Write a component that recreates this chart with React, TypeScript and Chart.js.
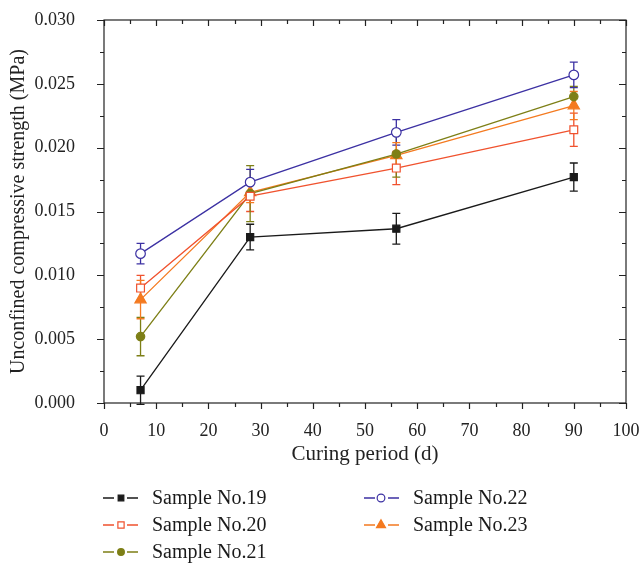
import React, { useEffect, useRef } from "react";
import { Chart, registerables } from "chart.js";

Chart.register(...registerables);

const days = [7, 28, 56, 90];
const seriesNames = ["Sample No.19", "Sample No.20", "Sample No.21", "Sample No.22", "Sample No.23"];
const s19 = [0.001, 0.013, 0.01365, 0.0177];
const s20 = [0.009, 0.0162, 0.0184, 0.0214];
const s21 = [0.0052, 0.0164, 0.0195, 0.024];
const s22 = [0.0117, 0.0173, 0.0212, 0.0257];
const s23 = [0.0081, 0.0165, 0.0194, 0.0233];
const e19 = [0.0011, 0.001, 0.0012, 0.0011];
const e20 = [0.001, 0.0012, 0.0013, 0.0013];
const e21 = [0.0015, 0.0022, 0.0018, 0.0008];
const e22 = [0.0008, 0.001, 0.001, 0.001];
const e23 = [0.0015, 0.0008, 0.001, 0.0011];
const xTicks = [0, 10, 20, 30, 40, 50, 60, 70, 80, 90, 100];
const yTicks = [0, 0.005, 0.01, 0.015, 0.02, 0.025, 0.03];

const colors = ["#1a1a1a", "#f0522e", "#7d7f16", "#3c31a3", "#f47a20"];
const styles = ["rect", "rect", "circle", "circle", "triangle"];
const filled = [true, false, true, false, true];
const radii = [5, 5.5, 4.2, 4.8, 6.5];
const values = [s19, s20, s21, s22, s23];
const errors = [e19, e20, e21, e22, e23];

const FONT = "'Liberation Serif', 'Times New Roman', serif";
const AXIS = "#222";

function drawMarker(ctx: CanvasRenderingContext2D, style: string, x: number, y: number, r: number, color: string, fill: boolean) {
  ctx.save();
  ctx.beginPath();
  if (style === "rect") {
    const s = r * Math.SQRT1_2;
    ctx.rect(x - s, y - s, 2 * s, 2 * s);
  } else if (style === "circle") {
    ctx.arc(x, y, r, 0, Math.PI * 2);
  } else {
    ctx.moveTo(x, y - r);
    ctx.lineTo(x + r * 0.866, y + r * 0.5);
    ctx.lineTo(x - r * 0.866, y + r * 0.5);
    ctx.closePath();
  }
  ctx.fillStyle = fill ? color : "#fff";
  ctx.fill();
  ctx.lineWidth = 1.2;
  ctx.strokeStyle = color;
  ctx.stroke();
  ctx.restore();
}

const errorBarPlugin = {
  id: "errorBars",
  beforeDatasetsDraw(chart: any) {
    const { ctx, scales } = chart;
    const xs = scales.x;
    const ys = scales.y;
    ctx.save();
    ctx.lineWidth = 1.3;
    values.forEach((vals, i) => {
      ctx.strokeStyle = colors[i];
      vals.forEach((v, j) => {
        const px = xs.getPixelForValue(days[j]);
        const top = ys.getPixelForValue(v + errors[i][j]);
        const bot = ys.getPixelForValue(v - errors[i][j]);
        ctx.beginPath();
        ctx.moveTo(px, top);
        ctx.lineTo(px, bot);
        ctx.moveTo(px - 4, top);
        ctx.lineTo(px + 4, top);
        ctx.moveTo(px - 4, bot);
        ctx.lineTo(px + 4, bot);
        ctx.stroke();
      });
    });
    ctx.restore();
  },
};

const framePlugin = {
  id: "frame",
  afterDraw(chart: any) {
    const { ctx, chartArea, scales } = chart;
    const { left, right, top, bottom } = chartArea;
    const xs = scales.x;
    const ys = scales.y;
    ctx.save();
    ctx.strokeStyle = AXIS;
    ctx.lineWidth = 1.2;
    ctx.strokeRect(left, top, right - left, bottom - top);
    ctx.beginPath();
    for (let v = 0; v <= 100; v += 5) {
      const px = Math.round(xs.getPixelForValue(v)) + 0.5;
      const len = v % 10 === 0 ? 6 : 4;
      ctx.moveTo(px, bottom);
      ctx.lineTo(px, bottom + len);
      ctx.moveTo(px, top);
      ctx.lineTo(px, top + len);
    }
    for (let k = 0; k <= 12; k++) {
      const v = k * 0.0025;
      const py = Math.round(ys.getPixelForValue(v)) + 0.5;
      const len = k % 2 === 0 ? 7 : 4;
      ctx.moveTo(left, py);
      ctx.lineTo(left - len, py);
      ctx.moveTo(right, py);
      ctx.lineTo(right - len, py);
    }
    ctx.stroke();

    // legend
    const cols = [
      { lx: 103, mx: 121, tx: 152 },
      { lx: 364, mx: 381, tx: 413 },
    ];
    const rows = [498, 525, 552];
    const order = [
      [0, 0, 0],
      [1, 0, 1],
      [2, 0, 2],
      [3, 1, 0],
      [4, 1, 1],
    ];
    ctx.font = `20px ${FONT}`;
    ctx.textBaseline = "middle";
    ctx.textAlign = "left";
    order.forEach(([i, c, r]) => {
      const col = cols[c];
      const y = rows[r];
      ctx.strokeStyle = colors[i];
      ctx.lineWidth = 1.3;
      ctx.beginPath();
      ctx.moveTo(col.lx, y);
      ctx.lineTo(col.lx + 11, y);
      ctx.moveTo(col.lx + 24, y);
      ctx.lineTo(col.lx + 35, y);
      ctx.stroke();
      drawMarker(ctx, styles[i], col.mx, y, radii[i] * 0.8, colors[i], filled[i]);
      ctx.fillStyle = "#1a1a1a";
      ctx.fillText(seriesNames[i], col.tx, y + 1);
    });
    ctx.restore();
  },
};

export default function App() {
  const ref = useRef<HTMLCanvasElement | null>(null);
  useEffect(() => {
    if (!ref.current) return;
    const chart = new Chart(ref.current, {
      type: "line",
      data: {
        datasets: values.map((vals, i) => ({
          label: seriesNames[i],
          data: vals.map((v, j) => ({ x: days[j], y: v })),
          borderColor: colors[i],
          borderWidth: 1.3,
          pointStyle: styles[i] as any,
          pointRadius: radii[i],
          pointHoverRadius: radii[i],
          pointBorderWidth: 1.2,
          pointBackgroundColor: filled[i] ? colors[i] : "#ffffff",
          pointBorderColor: colors[i],
          tension: 0,
          fill: false,
        })),
      },
      options: {
        animation: false,
        responsive: false,
        events: [],
        layout: { padding: { top: 20, right: 15, left: 0, bottom: 0 } },
        plugins: { legend: { display: false }, tooltip: { enabled: false } },
        scales: {
          x: {
            type: "linear",
            min: 0,
            max: 100,
            afterBuildTicks: (s: any) => {
              s.ticks = xTicks.map((v) => ({ value: v }));
            },
            afterFit: (s: any) => {
              s.height = 164;
              s.paddingRight = 0;
              s.paddingLeft = 0;
            },
            grid: { display: false },
            border: { display: false },
            ticks: { color: AXIS, font: { family: FONT, size: 18 }, padding: 9, maxRotation: 0, autoSkip: false },
            title: {
              display: true,
              text: "Curing period (d)",
              color: AXIS,
              font: { family: FONT, size: 21 },
              padding: { top: 4, bottom: 100 },
            },
          },
          y: {
            type: "linear",
            min: 0,
            max: 0.03,
            afterBuildTicks: (s: any) => {
              s.ticks = yTicks.map((v) => ({ value: v }));
            },
            afterFit: (s: any) => {
              s.width = 104;
              s.paddingTop = 0;
              s.paddingBottom = 0;
            },
            grid: { display: false },
            border: { display: false },
            ticks: {
              color: AXIS,
              font: { family: FONT, size: 18 },
              padding: 21,
              callback: (v: any) => Number(v).toFixed(3),
            },
            title: {
              display: true,
              text: "Unconfined compressive strength (MPa)",
              color: AXIS,
              font: { family: FONT, size: 20 },
              padding: { top: 7, bottom: 2 },
            },
          },
        },
      },
      plugins: [errorBarPlugin, framePlugin],
    });
    return () => chart.destroy();
  }, []);
  return (
    <div style={{ position: "fixed", left: 0, top: 0, width: 641, height: 567, background: "#fff" }}>
      <canvas ref={ref} width={641} height={567} />
    </div>
  );
}
